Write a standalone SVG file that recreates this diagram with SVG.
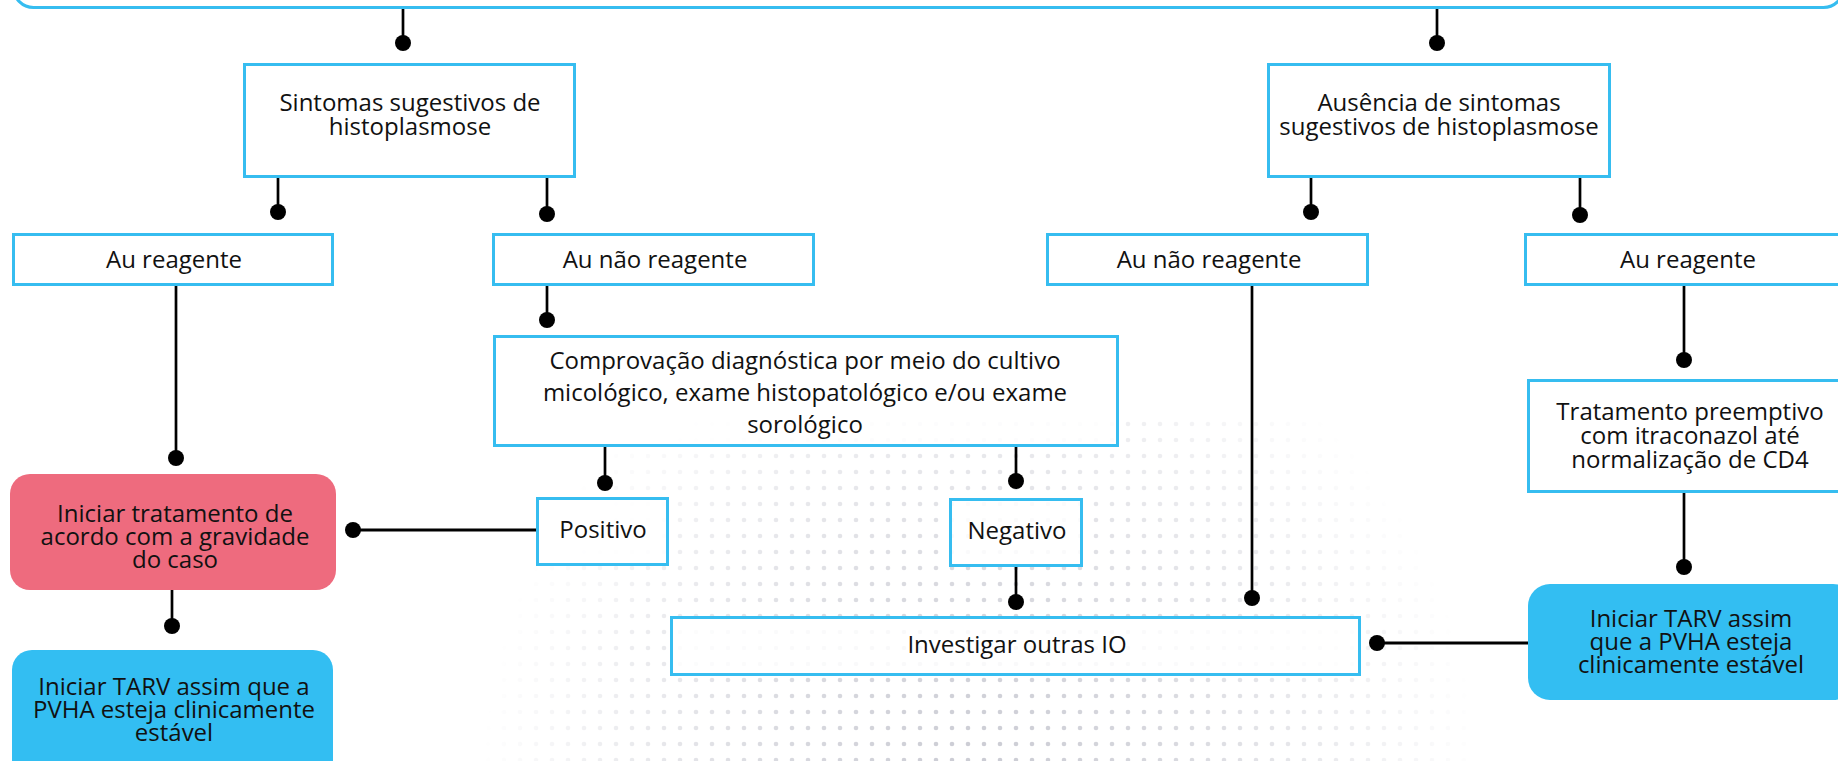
<svg xmlns="http://www.w3.org/2000/svg" width="1838" height="761" viewBox="0 0 1838 761">
<style>
.box{fill:#ffffff;fill-opacity:0.85;stroke:#36bdf0;stroke-width:3}
.red{fill:#ee6b7e}
.blue{fill:#33bef2}
.t{font-family:"Open Sans","Liberation Sans",Arial,sans-serif;font-size:24px;fill:#111111;text-anchor:middle}
.ln{stroke:#000000;stroke-width:2.7;fill:none}
.dot{fill:#000000}
</style>
<defs>
<pattern id="dp" x="0" y="0" width="16" height="16" patternUnits="userSpaceOnUse">
<circle cx="8" cy="8" r="2.3" fill="#c4c5ce"/>
</pattern>
<radialGradient id="rg" gradientUnits="userSpaceOnUse" cx="980" cy="780" r="500">
<stop offset="0" stop-color="#fff" stop-opacity="0.9"/>
<stop offset="0.4" stop-color="#fff" stop-opacity="0.65"/>
<stop offset="0.75" stop-color="#fff" stop-opacity="0.3"/>
<stop offset="1" stop-color="#fff" stop-opacity="0"/>
</radialGradient>
<mask id="mk" maskUnits="userSpaceOnUse" x="0" y="0" width="1838" height="761">
<rect x="0" y="0" width="1838" height="761" fill="url(#rg)"/>
</mask>
</defs>
<rect x="0" y="0" width="1838" height="761" fill="#ffffff"/>
<g id="halftone">
<rect x="420" y="420" width="1060" height="341" fill="url(#dp)" mask="url(#mk)"/>
</g>

<g id="connectors">
<line class="ln" x1="403" y1="9" x2="403" y2="43"/><circle class="dot" cx="403" cy="43" r="8"/>
<line class="ln" x1="1437" y1="9" x2="1437" y2="43"/><circle class="dot" cx="1437" cy="43" r="8"/>
<line class="ln" x1="278" y1="178" x2="278" y2="212"/><circle class="dot" cx="278" cy="212" r="8"/>
<line class="ln" x1="547" y1="178" x2="547" y2="214"/><circle class="dot" cx="547" cy="214" r="8"/>
<line class="ln" x1="1311" y1="178" x2="1311" y2="212"/><circle class="dot" cx="1311" cy="212" r="8"/>
<line class="ln" x1="1580" y1="178" x2="1580" y2="215"/><circle class="dot" cx="1580" cy="215" r="8"/>
<line class="ln" x1="176" y1="286" x2="176" y2="458"/><circle class="dot" cx="176" cy="458" r="8"/>
<line class="ln" x1="547" y1="286" x2="547" y2="320"/><circle class="dot" cx="547" cy="320" r="8"/>
<line class="ln" x1="605" y1="447" x2="605" y2="483"/><circle class="dot" cx="605" cy="483" r="8"/>
<line class="ln" x1="1016" y1="447" x2="1016" y2="481"/><circle class="dot" cx="1016" cy="481" r="8"/>
<line class="ln" x1="536" y1="530" x2="353" y2="530" style="stroke-width:3.2"/><circle class="dot" cx="353" cy="530" r="8"/>
<line class="ln" x1="1016" y1="567" x2="1016" y2="602"/><circle class="dot" cx="1016" cy="602" r="8"/>
<line class="ln" x1="1252" y1="286" x2="1252" y2="598"/><circle class="dot" cx="1252" cy="598" r="8"/>
<line class="ln" x1="1684" y1="286" x2="1684" y2="360"/><circle class="dot" cx="1684" cy="360" r="8"/>
<line class="ln" x1="1684" y1="493" x2="1684" y2="567"/><circle class="dot" cx="1684" cy="567" r="8"/>
<line class="ln" x1="1529" y1="643" x2="1377" y2="643" style="stroke-width:3"/><circle class="dot" cx="1377" cy="643" r="8"/>
<line class="ln" x1="172" y1="590" x2="172" y2="626"/><circle class="dot" cx="172" cy="626" r="8"/>
</g>

<g id="top">
<rect class="box" x="13.5" y="-60" width="1830" height="67.5" rx="20" ry="20"/>
</g>

<g id="sintomas">
<rect class="box" x="244.5" y="64.5" width="330" height="112"/>
<text class="t" x="410" y="111">Sintomas sugestivos de</text>
<text class="t" x="410" y="135">histoplasmose</text>
</g>

<g id="ausencia">
<rect class="box" x="1268.5" y="64.5" width="341" height="112"/>
<text class="t" x="1439" y="111">Ausência de sintomas</text>
<text class="t" x="1439" y="135">sugestivos de histoplasmose</text>
</g>

<g id="au-reagente-l">
<rect class="box" x="13.5" y="234.5" width="319" height="50"/>
<text class="t" x="174" y="268">Au reagente</text>
</g>

<g id="au-nao-reagente-l">
<rect class="box" x="493.5" y="234.5" width="320" height="50"/>
<text class="t" x="655" y="268">Au não reagente</text>
</g>

<g id="au-nao-reagente-r">
<rect class="box" x="1047.5" y="234.5" width="320" height="50"/>
<text class="t" x="1209" y="268">Au não reagente</text>
</g>

<g id="au-reagente-r">
<rect class="box" x="1525.5" y="234.5" width="324" height="50"/>
<text class="t" x="1688" y="268">Au reagente</text>
</g>

<g id="comprovacao">
<rect class="box" x="494.5" y="336.5" width="623" height="109"/>
<text class="t" x="805" y="369">Comprovação diagnóstica por meio do cultivo</text>
<text class="t" x="805" y="401">micológico, exame histopatológico e/ou exame</text>
<text class="t" x="805" y="433">sorológico</text>
</g>

<g id="positivo">
<rect class="box" x="537.5" y="498.5" width="130" height="66"/>
<text class="t" x="603" y="538">Positivo</text>
</g>

<g id="negativo">
<rect class="box" x="950.5" y="499.5" width="131" height="66"/>
<text class="t" x="1017" y="539">Negativo</text>
</g>

<g id="investigar">
<rect class="box" x="671.5" y="617.5" width="688" height="57"/>
<text class="t" x="1017" y="653">Investigar outras IO</text>
</g>

<g id="tratamento">
<rect class="box" x="1528.5" y="380.5" width="324" height="111"/>
<text class="t" x="1690" y="420">Tratamento preemptivo</text>
<text class="t" x="1690" y="444">com itraconazol até</text>
<text class="t" x="1690" y="468">normalização de CD4</text>
</g>

<g id="iniciar-tratamento">
<rect class="red" x="10" y="474" width="326" height="116" rx="20" ry="20"/>
<text class="t" x="175" y="522">Iniciar tratamento de</text>
<text class="t" x="175" y="545">acordo com a gravidade</text>
<text class="t" x="175" y="568">do caso</text>
</g>

<g id="tarv-l">
<rect class="blue" x="12" y="650" width="321" height="140" rx="20" ry="20"/>
<text class="t" x="174" y="695">Iniciar TARV assim que a</text>
<text class="t" x="174" y="718">PVHA esteja clinicamente</text>
<text class="t" x="174" y="741">estável</text>
</g>

<g id="tarv-r">
<rect class="blue" x="1528" y="584" width="327" height="116" rx="22" ry="22"/>
<text class="t" x="1691" y="627">Iniciar TARV assim</text>
<text class="t" x="1691" y="650">que a PVHA esteja</text>
<text class="t" x="1691" y="673">clinicamente estável</text>
</g>
</svg>
